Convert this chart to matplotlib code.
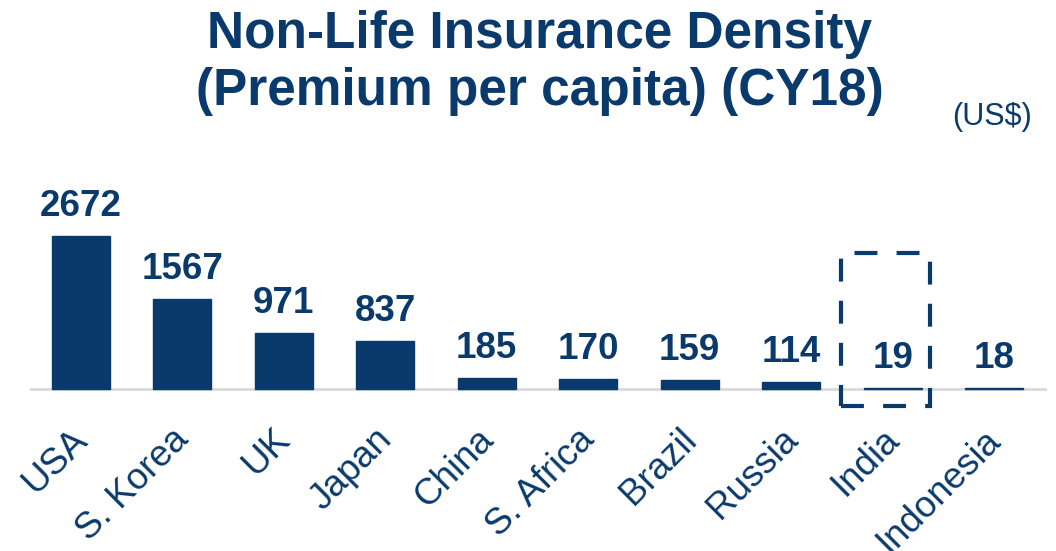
import matplotlib
matplotlib.use("Agg")
import matplotlib.pyplot as plt
from matplotlib.patches import Rectangle

# data
countries = ["USA", "S. Korea", "UK", "Japan", "China", "S. Africa",
             "Brazil", "Russia", "India", "Indonesia"]
premium = [2672, 1567, 971, 837, 185, 170, 159, 114, 19, 18]
highlight = "India"

navy = "#0a3a6b"
plt.rcParams["font.family"] = ["Liberation Sans", "DejaVu Sans"]

W, H = 1056, 551
fig = plt.figure(figsize=(W / 100, H / 100), dpi=100)
fig.patch.set_facecolor("white")

# axes placed in pixels: baseline at y=389 (from top), ~17.46 units per pixel
per_px = 17.46
ax_top, ax_bot = 150, 420
ax = fig.add_axes([30 / W, (H - ax_bot) / H, 1017 / W, (ax_bot - ax_top) / H])
ax.set_xlim(-0.5, 9.52)
ax.set_ylim(-(ax_bot - 389) * per_px, (389 - ax_top) * per_px)
ax.axis("off")

x = list(range(len(countries)))
ax.bar(x, premium, width=0.57, color=navy, edgecolor=navy, linewidth=1.0, zorder=2)
ax.axhline(0, color="#d9d9d9", linewidth=2, zorder=1)

for xi, v in zip(x, premium):
    ax.annotate(str(v), (xi, v), xytext=(0, 14.5), textcoords="offset points",
                ha="center", va="baseline", fontsize=26.5, fontweight="bold",
                color=navy)

for xi, name in zip(x, countries):
    ax.text(xi - 0.11, -33 * per_px, name, rotation=45, rotation_mode="anchor",
            ha="right", va="top", fontsize=26.5, color=navy)

# dashed box around India
i = countries.index(highlight)
box = Rectangle((i - 0.51, -17 * per_px), 0.88, (406 - 253) * per_px,
                fill=False, edgecolor=navy, linewidth=3,
                linestyle=(0, (5.5, 4.6)), clip_on=False, zorder=3)
ax.add_patch(box)

fig.text(540 / W, 1 - 10 / H, "Non-Life Insurance Density\n(Premium per capita) (CY18)",
         ha="center", va="top", fontsize=37, fontweight="bold", color=navy,
         linespacing=1.22)
fig.text(1032 / W, 1 - 117 / H, "(US$)", ha="right", va="center",
         fontsize=22, color=navy)

fig.savefig("out.png", dpi=100, facecolor="white")
